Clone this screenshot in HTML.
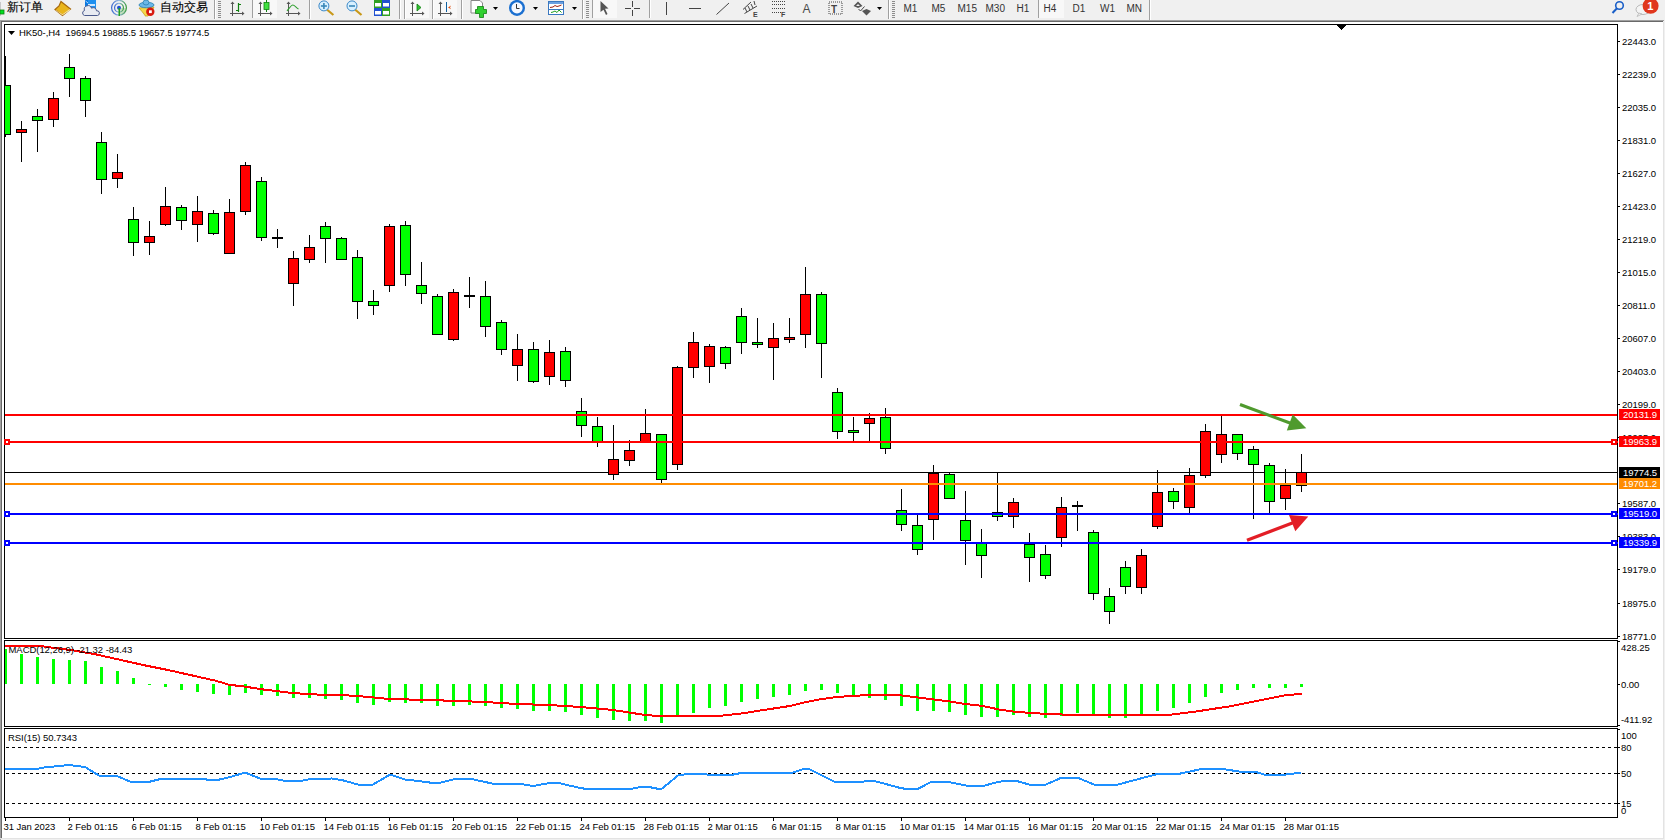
<!DOCTYPE html>
<html><head><meta charset="utf-8"><style>
html,body{margin:0;padding:0;width:1665px;height:840px;overflow:hidden;background:#F0F0F0;font-family:"Liberation Sans",sans-serif;}
svg text{white-space:pre}
</style></head><body>
<svg width="1665" height="840" viewBox="0 0 1665 840" style="position:absolute;left:0;top:0">
<defs>
<clipPath id="cm"><rect x="5" y="25" width="1612" height="613"/></clipPath>
<clipPath id="cmacd"><rect x="5" y="641" width="1612" height="85"/></clipPath>
<clipPath id="crsi"><rect x="5" y="729" width="1612" height="88"/></clipPath>
</defs>
<g shape-rendering="crispEdges">
<!-- frame -->
<rect x="0" y="20" width="1664" height="1" fill="#A0A0A0"/><rect x="0" y="21" width="1663" height="1" fill="#696969"/>
<rect x="0" y="20" width="1" height="820" fill="#A0A0A0"/><rect x="1" y="21" width="1" height="817" fill="#696969"/>
<rect x="2" y="22" width="1661" height="816" fill="#FFFFFF"/>
<rect x="1663" y="22" width="1" height="817" fill="#E3E3E3"/><rect x="0" y="838" width="1664" height="1" fill="#E3E3E3"/>
<!-- main chart border -->
<rect x="4" y="24" width="1614" height="1" fill="#000"/><rect x="4" y="24" width="1" height="615" fill="#000"/><rect x="1617" y="24" width="1" height="615" fill="#000"/><rect x="4" y="638" width="1614" height="1" fill="#000"/>
<rect x="5" y="472" width="1612" height="1" fill="#000000"/><g clip-path="url(#cm)"><rect x="5" y="56" width="1" height="81" fill="#000"/><rect x="0" y="85" width="11" height="50" fill="#000"/><rect x="1" y="86" width="9" height="48" fill="#00FF00"/><rect x="21" y="121" width="1" height="41" fill="#000"/><rect x="16" y="129" width="11" height="4" fill="#000"/><rect x="17" y="130" width="9" height="2" fill="#FF0000"/><rect x="37" y="109" width="1" height="43" fill="#000"/><rect x="32" y="116" width="11" height="5" fill="#000"/><rect x="33" y="117" width="9" height="3" fill="#00FF00"/><rect x="53" y="92" width="1" height="35" fill="#000"/><rect x="48" y="98" width="11" height="22" fill="#000"/><rect x="49" y="99" width="9" height="20" fill="#FF0000"/><rect x="69" y="54" width="1" height="43" fill="#000"/><rect x="64" y="67" width="11" height="12" fill="#000"/><rect x="65" y="68" width="9" height="10" fill="#00FF00"/><rect x="85" y="76" width="1" height="41" fill="#000"/><rect x="80" y="78" width="11" height="23" fill="#000"/><rect x="81" y="79" width="9" height="21" fill="#00FF00"/><rect x="101" y="132" width="1" height="62" fill="#000"/><rect x="96" y="142" width="11" height="38" fill="#000"/><rect x="97" y="143" width="9" height="36" fill="#00FF00"/><rect x="117" y="154" width="1" height="34" fill="#000"/><rect x="112" y="172" width="11" height="7" fill="#000"/><rect x="113" y="173" width="9" height="5" fill="#FF0000"/><rect x="133" y="207" width="1" height="49" fill="#000"/><rect x="128" y="219" width="11" height="24" fill="#000"/><rect x="129" y="220" width="9" height="22" fill="#00FF00"/><rect x="149" y="221" width="1" height="34" fill="#000"/><rect x="144" y="236" width="11" height="7" fill="#000"/><rect x="145" y="237" width="9" height="5" fill="#FF0000"/><rect x="165" y="187" width="1" height="39" fill="#000"/><rect x="160" y="206" width="11" height="19" fill="#000"/><rect x="161" y="207" width="9" height="17" fill="#FF0000"/><rect x="181" y="205" width="1" height="25" fill="#000"/><rect x="176" y="207" width="11" height="14" fill="#000"/><rect x="177" y="208" width="9" height="12" fill="#00FF00"/><rect x="197" y="196" width="1" height="46" fill="#000"/><rect x="192" y="211" width="11" height="14" fill="#000"/><rect x="193" y="212" width="9" height="12" fill="#FF0000"/><rect x="213" y="210" width="1" height="25" fill="#000"/><rect x="208" y="213" width="11" height="21" fill="#000"/><rect x="209" y="214" width="9" height="19" fill="#00FF00"/><rect x="229" y="199" width="1" height="55" fill="#000"/><rect x="224" y="212" width="11" height="42" fill="#000"/><rect x="225" y="213" width="9" height="40" fill="#FF0000"/><rect x="245" y="162" width="1" height="53" fill="#000"/><rect x="240" y="165" width="11" height="47" fill="#000"/><rect x="241" y="166" width="9" height="45" fill="#FF0000"/><rect x="261" y="177" width="1" height="64" fill="#000"/><rect x="256" y="181" width="11" height="57" fill="#000"/><rect x="257" y="182" width="9" height="55" fill="#00FF00"/><rect x="277" y="229" width="1" height="19" fill="#000"/><rect x="272" y="237" width="11" height="2" fill="#000"/><rect x="293" y="251" width="1" height="55" fill="#000"/><rect x="288" y="258" width="11" height="26" fill="#000"/><rect x="289" y="259" width="9" height="24" fill="#FF0000"/><rect x="309" y="235" width="1" height="28" fill="#000"/><rect x="304" y="247" width="11" height="13" fill="#000"/><rect x="305" y="248" width="9" height="11" fill="#FF0000"/><rect x="325" y="222" width="1" height="41" fill="#000"/><rect x="320" y="226" width="11" height="13" fill="#000"/><rect x="321" y="227" width="9" height="11" fill="#00FF00"/><rect x="341" y="237" width="1" height="23" fill="#000"/><rect x="336" y="238" width="11" height="22" fill="#000"/><rect x="337" y="239" width="9" height="20" fill="#00FF00"/><rect x="357" y="250" width="1" height="69" fill="#000"/><rect x="352" y="257" width="11" height="45" fill="#000"/><rect x="353" y="258" width="9" height="43" fill="#00FF00"/><rect x="373" y="290" width="1" height="25" fill="#000"/><rect x="368" y="301" width="11" height="5" fill="#000"/><rect x="369" y="302" width="9" height="3" fill="#00FF00"/><rect x="389" y="224" width="1" height="68" fill="#000"/><rect x="384" y="226" width="11" height="60" fill="#000"/><rect x="385" y="227" width="9" height="58" fill="#FF0000"/><rect x="405" y="221" width="1" height="65" fill="#000"/><rect x="400" y="225" width="11" height="50" fill="#000"/><rect x="401" y="226" width="9" height="48" fill="#00FF00"/><rect x="421" y="262" width="1" height="42" fill="#000"/><rect x="416" y="285" width="11" height="9" fill="#000"/><rect x="417" y="286" width="9" height="7" fill="#00FF00"/><rect x="437" y="294" width="1" height="41" fill="#000"/><rect x="432" y="296" width="11" height="39" fill="#000"/><rect x="433" y="297" width="9" height="37" fill="#00FF00"/><rect x="453" y="289" width="1" height="52" fill="#000"/><rect x="448" y="292" width="11" height="48" fill="#000"/><rect x="449" y="293" width="9" height="46" fill="#FF0000"/><rect x="469" y="277" width="1" height="31" fill="#000"/><rect x="464" y="295" width="11" height="2" fill="#000"/><rect x="485" y="281" width="1" height="56" fill="#000"/><rect x="480" y="296" width="11" height="31" fill="#000"/><rect x="481" y="297" width="9" height="29" fill="#00FF00"/><rect x="501" y="320" width="1" height="35" fill="#000"/><rect x="496" y="322" width="11" height="28" fill="#000"/><rect x="497" y="323" width="9" height="26" fill="#00FF00"/><rect x="517" y="334" width="1" height="47" fill="#000"/><rect x="512" y="349" width="11" height="17" fill="#000"/><rect x="513" y="350" width="9" height="15" fill="#FF0000"/><rect x="533" y="342" width="1" height="41" fill="#000"/><rect x="528" y="349" width="11" height="33" fill="#000"/><rect x="529" y="350" width="9" height="31" fill="#00FF00"/><rect x="549" y="340" width="1" height="45" fill="#000"/><rect x="544" y="352" width="11" height="25" fill="#000"/><rect x="545" y="353" width="9" height="23" fill="#FF0000"/><rect x="565" y="347" width="1" height="40" fill="#000"/><rect x="560" y="351" width="11" height="30" fill="#000"/><rect x="561" y="352" width="9" height="28" fill="#00FF00"/><rect x="581" y="398" width="1" height="39" fill="#000"/><rect x="576" y="411" width="11" height="15" fill="#000"/><rect x="577" y="412" width="9" height="13" fill="#00FF00"/><rect x="597" y="417" width="1" height="30" fill="#000"/><rect x="592" y="426" width="11" height="16" fill="#000"/><rect x="593" y="427" width="9" height="14" fill="#00FF00"/><rect x="613" y="425" width="1" height="55" fill="#000"/><rect x="608" y="459" width="11" height="16" fill="#000"/><rect x="609" y="460" width="9" height="14" fill="#FF0000"/><rect x="629" y="440" width="1" height="26" fill="#000"/><rect x="624" y="450" width="11" height="11" fill="#000"/><rect x="625" y="451" width="9" height="9" fill="#FF0000"/><rect x="645" y="409" width="1" height="33" fill="#000"/><rect x="640" y="433" width="11" height="9" fill="#000"/><rect x="641" y="434" width="9" height="7" fill="#FF0000"/><rect x="661" y="434" width="1" height="49" fill="#000"/><rect x="656" y="434" width="11" height="46" fill="#000"/><rect x="657" y="435" width="9" height="44" fill="#00FF00"/><rect x="677" y="366" width="1" height="104" fill="#000"/><rect x="672" y="367" width="11" height="98" fill="#000"/><rect x="673" y="368" width="9" height="96" fill="#FF0000"/><rect x="693" y="332" width="1" height="46" fill="#000"/><rect x="688" y="342" width="11" height="26" fill="#000"/><rect x="689" y="343" width="9" height="24" fill="#FF0000"/><rect x="709" y="344" width="1" height="39" fill="#000"/><rect x="704" y="346" width="11" height="21" fill="#000"/><rect x="705" y="347" width="9" height="19" fill="#FF0000"/><rect x="725" y="346" width="1" height="23" fill="#000"/><rect x="720" y="347" width="11" height="17" fill="#000"/><rect x="721" y="348" width="9" height="15" fill="#00FF00"/><rect x="741" y="308" width="1" height="46" fill="#000"/><rect x="736" y="316" width="11" height="27" fill="#000"/><rect x="737" y="317" width="9" height="25" fill="#00FF00"/><rect x="757" y="318" width="1" height="30" fill="#000"/><rect x="752" y="342" width="11" height="3" fill="#000"/><rect x="753" y="343" width="9" height="1" fill="#00FF00"/><rect x="773" y="323" width="1" height="57" fill="#000"/><rect x="768" y="338" width="11" height="10" fill="#000"/><rect x="769" y="339" width="9" height="8" fill="#FF0000"/><rect x="789" y="318" width="1" height="25" fill="#000"/><rect x="784" y="337" width="11" height="3" fill="#000"/><rect x="785" y="338" width="9" height="1" fill="#FF0000"/><rect x="805" y="267" width="1" height="81" fill="#000"/><rect x="800" y="294" width="11" height="41" fill="#000"/><rect x="801" y="295" width="9" height="39" fill="#FF0000"/><rect x="821" y="292" width="1" height="86" fill="#000"/><rect x="816" y="294" width="11" height="50" fill="#000"/><rect x="817" y="295" width="9" height="48" fill="#00FF00"/><rect x="837" y="388" width="1" height="51" fill="#000"/><rect x="832" y="392" width="11" height="40" fill="#000"/><rect x="833" y="393" width="9" height="38" fill="#00FF00"/><rect x="853" y="417" width="1" height="24" fill="#000"/><rect x="848" y="430" width="11" height="3" fill="#000"/><rect x="849" y="431" width="9" height="1" fill="#00FF00"/><rect x="869" y="413" width="1" height="28" fill="#000"/><rect x="864" y="418" width="11" height="6" fill="#000"/><rect x="865" y="419" width="9" height="4" fill="#FF0000"/><rect x="885" y="408" width="1" height="46" fill="#000"/><rect x="880" y="417" width="11" height="32" fill="#000"/><rect x="881" y="418" width="9" height="30" fill="#00FF00"/><rect x="901" y="489" width="1" height="42" fill="#000"/><rect x="896" y="510" width="11" height="15" fill="#000"/><rect x="897" y="511" width="9" height="13" fill="#00FF00"/><rect x="917" y="515" width="1" height="40" fill="#000"/><rect x="912" y="525" width="11" height="25" fill="#000"/><rect x="913" y="526" width="9" height="23" fill="#00FF00"/><rect x="933" y="465" width="1" height="75" fill="#000"/><rect x="928" y="473" width="11" height="47" fill="#000"/><rect x="929" y="474" width="9" height="45" fill="#FF0000"/><rect x="949" y="473" width="1" height="26" fill="#000"/><rect x="944" y="474" width="11" height="25" fill="#000"/><rect x="945" y="475" width="9" height="23" fill="#00FF00"/><rect x="965" y="491" width="1" height="74" fill="#000"/><rect x="960" y="520" width="11" height="21" fill="#000"/><rect x="961" y="521" width="9" height="19" fill="#00FF00"/><rect x="981" y="529" width="1" height="49" fill="#000"/><rect x="976" y="543" width="11" height="13" fill="#000"/><rect x="977" y="544" width="9" height="11" fill="#00FF00"/><rect x="997" y="472" width="1" height="49" fill="#000"/><rect x="992" y="512" width="11" height="5" fill="#000"/><rect x="993" y="513" width="9" height="3" fill="#00FF00"/><rect x="1013" y="498" width="1" height="30" fill="#000"/><rect x="1008" y="502" width="11" height="15" fill="#000"/><rect x="1009" y="503" width="9" height="13" fill="#FF0000"/><rect x="1029" y="533" width="1" height="49" fill="#000"/><rect x="1024" y="544" width="11" height="14" fill="#000"/><rect x="1025" y="545" width="9" height="12" fill="#00FF00"/><rect x="1045" y="545" width="1" height="34" fill="#000"/><rect x="1040" y="554" width="11" height="22" fill="#000"/><rect x="1041" y="555" width="9" height="20" fill="#00FF00"/><rect x="1061" y="497" width="1" height="50" fill="#000"/><rect x="1056" y="507" width="11" height="31" fill="#000"/><rect x="1057" y="508" width="9" height="29" fill="#FF0000"/><rect x="1077" y="501" width="1" height="30" fill="#000"/><rect x="1072" y="505" width="11" height="2" fill="#000"/><rect x="1093" y="530" width="1" height="70" fill="#000"/><rect x="1088" y="532" width="11" height="62" fill="#000"/><rect x="1089" y="533" width="9" height="60" fill="#00FF00"/><rect x="1109" y="588" width="1" height="36" fill="#000"/><rect x="1104" y="596" width="11" height="16" fill="#000"/><rect x="1105" y="597" width="9" height="14" fill="#00FF00"/><rect x="1125" y="561" width="1" height="33" fill="#000"/><rect x="1120" y="567" width="11" height="20" fill="#000"/><rect x="1121" y="568" width="9" height="18" fill="#00FF00"/><rect x="1141" y="549" width="1" height="45" fill="#000"/><rect x="1136" y="555" width="11" height="33" fill="#000"/><rect x="1137" y="556" width="9" height="31" fill="#FF0000"/><rect x="1157" y="470" width="1" height="59" fill="#000"/><rect x="1152" y="492" width="11" height="35" fill="#000"/><rect x="1153" y="493" width="9" height="33" fill="#FF0000"/><rect x="1173" y="488" width="1" height="21" fill="#000"/><rect x="1168" y="491" width="11" height="11" fill="#000"/><rect x="1169" y="492" width="9" height="9" fill="#00FF00"/><rect x="1189" y="468" width="1" height="45" fill="#000"/><rect x="1184" y="475" width="11" height="33" fill="#000"/><rect x="1185" y="476" width="9" height="31" fill="#FF0000"/><rect x="1205" y="424" width="1" height="54" fill="#000"/><rect x="1200" y="431" width="11" height="45" fill="#000"/><rect x="1201" y="432" width="9" height="43" fill="#FF0000"/><rect x="1221" y="416" width="1" height="47" fill="#000"/><rect x="1216" y="434" width="11" height="21" fill="#000"/><rect x="1217" y="435" width="9" height="19" fill="#FF0000"/><rect x="1237" y="434" width="1" height="26" fill="#000"/><rect x="1232" y="434" width="11" height="20" fill="#000"/><rect x="1233" y="435" width="9" height="18" fill="#00FF00"/><rect x="1253" y="446" width="1" height="73" fill="#000"/><rect x="1248" y="449" width="11" height="16" fill="#000"/><rect x="1249" y="450" width="9" height="14" fill="#00FF00"/><rect x="1269" y="463" width="1" height="50" fill="#000"/><rect x="1264" y="465" width="11" height="37" fill="#000"/><rect x="1265" y="466" width="9" height="35" fill="#00FF00"/><rect x="1285" y="469" width="1" height="41" fill="#000"/><rect x="1280" y="485" width="11" height="14" fill="#000"/><rect x="1281" y="486" width="9" height="12" fill="#FF0000"/><rect x="1301" y="454" width="1" height="38" fill="#000"/><rect x="1296" y="472" width="11" height="14" fill="#000"/><rect x="1297" y="473" width="9" height="12" fill="#FF0000"/></g>
<rect x="5" y="414" width="1612" height="2" fill="#FF0000"/><rect x="5" y="441" width="1613" height="2" fill="#FF0000"/><rect x="5" y="483" width="1612" height="2" fill="#FF8C00"/><rect x="5" y="513" width="1613" height="2" fill="#0000FF"/><rect x="5" y="542" width="1613" height="2" fill="#0000FF"/><rect x="4" y="439" width="6" height="6" fill="#FF0000"/><rect x="6" y="441" width="2" height="2" fill="#FFFFFF"/><rect x="1611" y="439" width="6" height="6" fill="#FF0000"/><rect x="1613" y="441" width="2" height="2" fill="#FFFFFF"/><rect x="4" y="511" width="6" height="6" fill="#0000FF"/><rect x="6" y="513" width="2" height="2" fill="#FFFFFF"/><rect x="1611" y="511" width="6" height="6" fill="#0000FF"/><rect x="1613" y="513" width="2" height="2" fill="#FFFFFF"/><rect x="4" y="540" width="6" height="6" fill="#0000FF"/><rect x="6" y="542" width="2" height="2" fill="#FFFFFF"/><rect x="1611" y="540" width="6" height="6" fill="#0000FF"/><rect x="1613" y="542" width="2" height="2" fill="#FFFFFF"/>
<polygon points="1337,25 1346,25 1341.5,30" fill="#000"/>
<!-- macd -->
<rect x="4" y="640" width="1614" height="1" fill="#000"/><rect x="4" y="640" width="1" height="87" fill="#000"/><rect x="1617" y="640" width="1" height="87" fill="#000"/><rect x="4" y="726" width="1614" height="1" fill="#000"/>
<g clip-path="url(#cmacd)"><rect x="4" y="649" width="3" height="35" fill="#00FF00"/><rect x="20" y="654" width="3" height="30" fill="#00FF00"/><rect x="36" y="657" width="3" height="27" fill="#00FF00"/><rect x="52" y="659" width="3" height="25" fill="#00FF00"/><rect x="68" y="660" width="3" height="24" fill="#00FF00"/><rect x="84" y="661" width="3" height="23" fill="#00FF00"/><rect x="100" y="667" width="3" height="17" fill="#00FF00"/><rect x="116" y="671" width="3" height="13" fill="#00FF00"/><rect x="132" y="678" width="3" height="6" fill="#00FF00"/><rect x="148" y="684" width="3" height="1" fill="#00FF00"/><rect x="164" y="684" width="3" height="3" fill="#00FF00"/><rect x="180" y="684" width="3" height="6" fill="#00FF00"/><rect x="196" y="684" width="3" height="8" fill="#00FF00"/><rect x="212" y="684" width="3" height="10" fill="#00FF00"/><rect x="228" y="684" width="3" height="11" fill="#00FF00"/><rect x="244" y="684" width="3" height="9" fill="#00FF00"/><rect x="260" y="684" width="3" height="11" fill="#00FF00"/><rect x="276" y="684" width="3" height="12" fill="#00FF00"/><rect x="292" y="684" width="3" height="14" fill="#00FF00"/><rect x="308" y="684" width="3" height="14" fill="#00FF00"/><rect x="324" y="684" width="3" height="15" fill="#00FF00"/><rect x="340" y="684" width="3" height="16" fill="#00FF00"/><rect x="356" y="684" width="3" height="19" fill="#00FF00"/><rect x="372" y="684" width="3" height="21" fill="#00FF00"/><rect x="388" y="684" width="3" height="18" fill="#00FF00"/><rect x="404" y="684" width="3" height="19" fill="#00FF00"/><rect x="420" y="684" width="3" height="19" fill="#00FF00"/><rect x="436" y="684" width="3" height="22" fill="#00FF00"/><rect x="452" y="684" width="3" height="22" fill="#00FF00"/><rect x="468" y="684" width="3" height="21" fill="#00FF00"/><rect x="484" y="684" width="3" height="22" fill="#00FF00"/><rect x="500" y="684" width="3" height="24" fill="#00FF00"/><rect x="516" y="684" width="3" height="25" fill="#00FF00"/><rect x="532" y="684" width="3" height="27" fill="#00FF00"/><rect x="548" y="684" width="3" height="27" fill="#00FF00"/><rect x="564" y="684" width="3" height="28" fill="#00FF00"/><rect x="580" y="684" width="3" height="31" fill="#00FF00"/><rect x="596" y="684" width="3" height="34" fill="#00FF00"/><rect x="612" y="684" width="3" height="36" fill="#00FF00"/><rect x="628" y="684" width="3" height="37" fill="#00FF00"/><rect x="644" y="684" width="3" height="37" fill="#00FF00"/><rect x="660" y="684" width="3" height="39" fill="#00FF00"/><rect x="676" y="684" width="3" height="32" fill="#00FF00"/><rect x="692" y="684" width="3" height="29" fill="#00FF00"/><rect x="708" y="684" width="3" height="24" fill="#00FF00"/><rect x="724" y="684" width="3" height="22" fill="#00FF00"/><rect x="740" y="684" width="3" height="18" fill="#00FF00"/><rect x="756" y="684" width="3" height="15" fill="#00FF00"/><rect x="772" y="684" width="3" height="13" fill="#00FF00"/><rect x="788" y="684" width="3" height="11" fill="#00FF00"/><rect x="804" y="684" width="3" height="7" fill="#00FF00"/><rect x="820" y="684" width="3" height="6" fill="#00FF00"/><rect x="836" y="684" width="3" height="9" fill="#00FF00"/><rect x="852" y="684" width="3" height="12" fill="#00FF00"/><rect x="868" y="684" width="3" height="14" fill="#00FF00"/><rect x="884" y="684" width="3" height="16" fill="#00FF00"/><rect x="900" y="684" width="3" height="22" fill="#00FF00"/><rect x="916" y="684" width="3" height="27" fill="#00FF00"/><rect x="932" y="684" width="3" height="27" fill="#00FF00"/><rect x="948" y="684" width="3" height="28" fill="#00FF00"/><rect x="964" y="684" width="3" height="31" fill="#00FF00"/><rect x="980" y="684" width="3" height="33" fill="#00FF00"/><rect x="996" y="684" width="3" height="33" fill="#00FF00"/><rect x="1012" y="684" width="3" height="31" fill="#00FF00"/><rect x="1028" y="684" width="3" height="33" fill="#00FF00"/><rect x="1044" y="684" width="3" height="34" fill="#00FF00"/><rect x="1060" y="684" width="3" height="32" fill="#00FF00"/><rect x="1076" y="684" width="3" height="29" fill="#00FF00"/><rect x="1092" y="684" width="3" height="30" fill="#00FF00"/><rect x="1108" y="684" width="3" height="34" fill="#00FF00"/><rect x="1124" y="684" width="3" height="34" fill="#00FF00"/><rect x="1140" y="684" width="3" height="30" fill="#00FF00"/><rect x="1156" y="684" width="3" height="27" fill="#00FF00"/><rect x="1172" y="684" width="3" height="24" fill="#00FF00"/><rect x="1188" y="684" width="3" height="19" fill="#00FF00"/><rect x="1204" y="684" width="3" height="13" fill="#00FF00"/><rect x="1220" y="684" width="3" height="9" fill="#00FF00"/><rect x="1236" y="684" width="3" height="6" fill="#00FF00"/><rect x="1252" y="684" width="3" height="4" fill="#00FF00"/><rect x="1268" y="684" width="3" height="4" fill="#00FF00"/><rect x="1284" y="684" width="3" height="4" fill="#00FF00"/><rect x="1300" y="684" width="3" height="3" fill="#00FF00"/></g>
</g>
<g clip-path="url(#cmacd)"><polyline points="5,645.5 37,645.5 53,647.8 72,650.2 96,654.4 120,659.8 144,665.2 168,670 192,675.4 216,680.8 229,684.7 246,686.8 261,689.2 293,693.1 325,695 341,695 357,696 373,697.4 389,699 421,699.8 453,700.8 485,702 517,704 549,705 581,707 613,710 645,715 662,716.3 719,716 743,713.3 759,710.7 775,708.3 791,705.8 806,702 822,699 838,696.9 870,694.9 902,695.5 917,697.4 933,699.4 949,701.4 965,704 982,705.8 999,709.5 1014,711.7 1038,713.4 1062,714.5 1172,714.5 1198,711.2 1230,706.3 1263,699.8 1284,695.5 1302,693.7" fill="none" stroke="#FF0000" stroke-width="2" shape-rendering="crispEdges"/></g>
<g shape-rendering="crispEdges">
<!-- rsi -->
<rect x="4" y="728" width="1614" height="1" fill="#000"/><rect x="4" y="728" width="1" height="90" fill="#000"/><rect x="1617" y="728" width="1" height="90" fill="#000"/><rect x="4" y="817" width="1614" height="1" fill="#000"/>
<line x1="6" y1="747.5" x2="1617" y2="747.5" stroke="#000" stroke-dasharray="3,3"/>
<line x1="6" y1="773.5" x2="1617" y2="773.5" stroke="#000" stroke-dasharray="3,3"/>
<line x1="6" y1="803.5" x2="1617" y2="803.5" stroke="#000" stroke-dasharray="3,3"/>
</g>
<g clip-path="url(#crsi)"><polyline points="5,769 37,769 45,767.2 53,766.6 69,765 85,767 99,775.5 117,776 131,781.9 149,781.9 161,778.9 204,778.9 208,779.9 218,779.9 230,777 245,772.6 260,778.5 275,778.9 285,780.9 301,780.9 311,778.9 332,778.5 342,780.1 358,784.5 373,784.5 390,774.6 405,779.5 419,781.1 437,783.5 457,778.5 469,778.5 492,783.5 518,783.5 530,785.5 536,785.5 550,782.9 558,782.9 582,788.4 597,789.4 629,789.4 641,786.8 648,786.8 661,789.4 678,775.5 690,773.6 709,774.6 733,774.6 743,772.6 793,772.6 805,768.6 808,768.6 835,781.9 860,781.9 870,780.9 874,780.9 902,788.4 917,789.4 931,781.9 948,781.9 966,785.5 985,785.5 999,781.6 1016,780.8 1029,784.5 1046,784.5 1062,777.5 1077,777.5 1094,784.5 1118,784.5 1159,773.6 1180,773.6 1202,768.9 1222,768.9 1239,771.5 1254,771.5 1265,774.7 1284,774.7 1301,772.6" fill="none" stroke="#1E90FF" stroke-width="2" shape-rendering="crispEdges"/></g>
<g shape-rendering="crispEdges">
<rect x="1618" y="41" width="2" height="1" fill="#000"/><text x="1622" y="45" font-family="Liberation Sans, sans-serif" font-size="9.5" letter-spacing="-0.05" fill="#000">22443.0</text><rect x="1618" y="74" width="2" height="1" fill="#000"/><text x="1622" y="78" font-family="Liberation Sans, sans-serif" font-size="9.5" letter-spacing="-0.05" fill="#000">22239.0</text><rect x="1618" y="107" width="2" height="1" fill="#000"/><text x="1622" y="111" font-family="Liberation Sans, sans-serif" font-size="9.5" letter-spacing="-0.05" fill="#000">22035.0</text><rect x="1618" y="140" width="2" height="1" fill="#000"/><text x="1622" y="144" font-family="Liberation Sans, sans-serif" font-size="9.5" letter-spacing="-0.05" fill="#000">21831.0</text><rect x="1618" y="173" width="2" height="1" fill="#000"/><text x="1622" y="177" font-family="Liberation Sans, sans-serif" font-size="9.5" letter-spacing="-0.05" fill="#000">21627.0</text><rect x="1618" y="206" width="2" height="1" fill="#000"/><text x="1622" y="210" font-family="Liberation Sans, sans-serif" font-size="9.5" letter-spacing="-0.05" fill="#000">21423.0</text><rect x="1618" y="239" width="2" height="1" fill="#000"/><text x="1622" y="243" font-family="Liberation Sans, sans-serif" font-size="9.5" letter-spacing="-0.05" fill="#000">21219.0</text><rect x="1618" y="272" width="2" height="1" fill="#000"/><text x="1622" y="276" font-family="Liberation Sans, sans-serif" font-size="9.5" letter-spacing="-0.05" fill="#000">21015.0</text><rect x="1618" y="305" width="2" height="1" fill="#000"/><text x="1622" y="309" font-family="Liberation Sans, sans-serif" font-size="9.5" letter-spacing="-0.05" fill="#000">20811.0</text><rect x="1618" y="338" width="2" height="1" fill="#000"/><text x="1622" y="342" font-family="Liberation Sans, sans-serif" font-size="9.5" letter-spacing="-0.05" fill="#000">20607.0</text><rect x="1618" y="371" width="2" height="1" fill="#000"/><text x="1622" y="375" font-family="Liberation Sans, sans-serif" font-size="9.5" letter-spacing="-0.05" fill="#000">20403.0</text><rect x="1618" y="404" width="2" height="1" fill="#000"/><text x="1622" y="408" font-family="Liberation Sans, sans-serif" font-size="9.5" letter-spacing="-0.05" fill="#000">20199.0</text><rect x="1618" y="437" width="2" height="1" fill="#000"/><text x="1622" y="441" font-family="Liberation Sans, sans-serif" font-size="9.5" letter-spacing="-0.05" fill="#000">19995.0</text><rect x="1618" y="503" width="2" height="1" fill="#000"/><text x="1622" y="507" font-family="Liberation Sans, sans-serif" font-size="9.5" letter-spacing="-0.05" fill="#000">19587.0</text><rect x="1618" y="536" width="2" height="1" fill="#000"/><text x="1622" y="540" font-family="Liberation Sans, sans-serif" font-size="9.5" letter-spacing="-0.05" fill="#000">19383.0</text><rect x="1618" y="569" width="2" height="1" fill="#000"/><text x="1622" y="573" font-family="Liberation Sans, sans-serif" font-size="9.5" letter-spacing="-0.05" fill="#000">19179.0</text><rect x="1618" y="603" width="2" height="1" fill="#000"/><text x="1622" y="607" font-family="Liberation Sans, sans-serif" font-size="9.5" letter-spacing="-0.05" fill="#000">18975.0</text><rect x="1618" y="636" width="2" height="1" fill="#000"/><text x="1622" y="640" font-family="Liberation Sans, sans-serif" font-size="9.5" letter-spacing="-0.05" fill="#000">18771.0</text>
<rect x="1619" y="409" width="41" height="11" fill="#FF0000"/><text x="1623" y="417.5" font-family="Liberation Sans, sans-serif" font-size="9.5" letter-spacing="-0.05" fill="#FFFFFF">20131.9</text><rect x="1619" y="436" width="41" height="11" fill="#FF0000"/><text x="1623" y="444.5" font-family="Liberation Sans, sans-serif" font-size="9.5" letter-spacing="-0.05" fill="#FFFFFF">19963.9</text><rect x="1619" y="467" width="41" height="11" fill="#000000"/><text x="1623" y="475.5" font-family="Liberation Sans, sans-serif" font-size="9.5" letter-spacing="-0.05" fill="#FFFFFF">19774.5</text><rect x="1619" y="478" width="41" height="11" fill="#FF8C00"/><text x="1623" y="486.5" font-family="Liberation Sans, sans-serif" font-size="9.5" letter-spacing="-0.05" fill="#FFFFFF">19701.2</text><rect x="1619" y="508" width="41" height="11" fill="#0000FF"/><text x="1623" y="516.5" font-family="Liberation Sans, sans-serif" font-size="9.5" letter-spacing="-0.05" fill="#FFFFFF">19519.0</text><rect x="1619" y="537" width="41" height="11" fill="#0000FF"/><text x="1623" y="545.5" font-family="Liberation Sans, sans-serif" font-size="9.5" letter-spacing="-0.05" fill="#FFFFFF">19339.9</text>
<rect x="1618" y="641" width="2" height="1" fill="#000"/><text x="1621" y="651" font-family="Liberation Sans, sans-serif" font-size="9.5" letter-spacing="-0.05" fill="#000">428.25</text>
<rect x="1618" y="684" width="2" height="1" fill="#000"/><text x="1621" y="688" font-family="Liberation Sans, sans-serif" font-size="9.5" letter-spacing="-0.05" fill="#000">0.00</text>
<rect x="1618" y="725" width="2" height="1" fill="#000"/><text x="1621" y="723" font-family="Liberation Sans, sans-serif" font-size="9.5" letter-spacing="-0.05" fill="#000">-411.92</text>
<rect x="1618" y="729" width="2" height="1" fill="#000"/><text x="1621" y="739" font-family="Liberation Sans, sans-serif" font-size="9.5" letter-spacing="-0.05" fill="#000">100</text>
<rect x="1618" y="747" width="2" height="1" fill="#000"/><text x="1621" y="751" font-family="Liberation Sans, sans-serif" font-size="9.5" letter-spacing="-0.05" fill="#000">80</text>
<rect x="1618" y="773" width="2" height="1" fill="#000"/><text x="1621" y="777" font-family="Liberation Sans, sans-serif" font-size="9.5" letter-spacing="-0.05" fill="#000">50</text>
<rect x="1618" y="803" width="2" height="1" fill="#000"/><text x="1621" y="807" font-family="Liberation Sans, sans-serif" font-size="9.5" letter-spacing="-0.05" fill="#000">15</text>
<text x="1621" y="814" font-family="Liberation Sans, sans-serif" font-size="9.5" letter-spacing="-0.05" fill="#000">0</text>
<rect x="5" y="818" width="1" height="3" fill="#000"/><text x="3.5" y="830" font-family="Liberation Sans, sans-serif" font-size="9.5" letter-spacing="-0.05" fill="#000">31 Jan 2023</text><rect x="69" y="818" width="1" height="3" fill="#000"/><text x="67.5" y="830" font-family="Liberation Sans, sans-serif" font-size="9.5" letter-spacing="-0.05" fill="#000">2 Feb 01:15</text><rect x="133" y="818" width="1" height="3" fill="#000"/><text x="131.5" y="830" font-family="Liberation Sans, sans-serif" font-size="9.5" letter-spacing="-0.05" fill="#000">6 Feb 01:15</text><rect x="197" y="818" width="1" height="3" fill="#000"/><text x="195.5" y="830" font-family="Liberation Sans, sans-serif" font-size="9.5" letter-spacing="-0.05" fill="#000">8 Feb 01:15</text><rect x="261" y="818" width="1" height="3" fill="#000"/><text x="259.5" y="830" font-family="Liberation Sans, sans-serif" font-size="9.5" letter-spacing="-0.05" fill="#000">10 Feb 01:15</text><rect x="325" y="818" width="1" height="3" fill="#000"/><text x="323.5" y="830" font-family="Liberation Sans, sans-serif" font-size="9.5" letter-spacing="-0.05" fill="#000">14 Feb 01:15</text><rect x="389" y="818" width="1" height="3" fill="#000"/><text x="387.5" y="830" font-family="Liberation Sans, sans-serif" font-size="9.5" letter-spacing="-0.05" fill="#000">16 Feb 01:15</text><rect x="453" y="818" width="1" height="3" fill="#000"/><text x="451.5" y="830" font-family="Liberation Sans, sans-serif" font-size="9.5" letter-spacing="-0.05" fill="#000">20 Feb 01:15</text><rect x="517" y="818" width="1" height="3" fill="#000"/><text x="515.5" y="830" font-family="Liberation Sans, sans-serif" font-size="9.5" letter-spacing="-0.05" fill="#000">22 Feb 01:15</text><rect x="581" y="818" width="1" height="3" fill="#000"/><text x="579.5" y="830" font-family="Liberation Sans, sans-serif" font-size="9.5" letter-spacing="-0.05" fill="#000">24 Feb 01:15</text><rect x="645" y="818" width="1" height="3" fill="#000"/><text x="643.5" y="830" font-family="Liberation Sans, sans-serif" font-size="9.5" letter-spacing="-0.05" fill="#000">28 Feb 01:15</text><rect x="709" y="818" width="1" height="3" fill="#000"/><text x="707.5" y="830" font-family="Liberation Sans, sans-serif" font-size="9.5" letter-spacing="-0.05" fill="#000">2 Mar 01:15</text><rect x="773" y="818" width="1" height="3" fill="#000"/><text x="771.5" y="830" font-family="Liberation Sans, sans-serif" font-size="9.5" letter-spacing="-0.05" fill="#000">6 Mar 01:15</text><rect x="837" y="818" width="1" height="3" fill="#000"/><text x="835.5" y="830" font-family="Liberation Sans, sans-serif" font-size="9.5" letter-spacing="-0.05" fill="#000">8 Mar 01:15</text><rect x="901" y="818" width="1" height="3" fill="#000"/><text x="899.5" y="830" font-family="Liberation Sans, sans-serif" font-size="9.5" letter-spacing="-0.05" fill="#000">10 Mar 01:15</text><rect x="965" y="818" width="1" height="3" fill="#000"/><text x="963.5" y="830" font-family="Liberation Sans, sans-serif" font-size="9.5" letter-spacing="-0.05" fill="#000">14 Mar 01:15</text><rect x="1029" y="818" width="1" height="3" fill="#000"/><text x="1027.5" y="830" font-family="Liberation Sans, sans-serif" font-size="9.5" letter-spacing="-0.05" fill="#000">16 Mar 01:15</text><rect x="1093" y="818" width="1" height="3" fill="#000"/><text x="1091.5" y="830" font-family="Liberation Sans, sans-serif" font-size="9.5" letter-spacing="-0.05" fill="#000">20 Mar 01:15</text><rect x="1157" y="818" width="1" height="3" fill="#000"/><text x="1155.5" y="830" font-family="Liberation Sans, sans-serif" font-size="9.5" letter-spacing="-0.05" fill="#000">22 Mar 01:15</text><rect x="1221" y="818" width="1" height="3" fill="#000"/><text x="1219.5" y="830" font-family="Liberation Sans, sans-serif" font-size="9.5" letter-spacing="-0.05" fill="#000">24 Mar 01:15</text><rect x="1285" y="818" width="1" height="3" fill="#000"/><text x="1283.5" y="830" font-family="Liberation Sans, sans-serif" font-size="9.5" letter-spacing="-0.05" fill="#000">28 Mar 01:15</text>
</g>
<polygon points="8,31 15,31 11.5,35" fill="#000"/>
<text x="19" y="36" font-family="Liberation Sans, sans-serif" font-size="9.5" letter-spacing="-0.05" fill="#000">HK50-,H4  19694.5 19885.5 19657.5 19774.5</text>
<text x="8.5" y="653" font-family="Liberation Sans, sans-serif" font-size="9.5" letter-spacing="-0.05" fill="#000">MACD(12,26,9) -21.32 -84.43</text>
<text x="8" y="741" font-family="Liberation Sans, sans-serif" font-size="9.5" letter-spacing="-0.05" fill="#000">RSI(15) 50.7343</text>
<!-- arrows -->
<g>
<line x1="1240" y1="404.5" x2="1292" y2="423.8" stroke="#4F9A2E" stroke-width="3.2"/>
<polygon points="1306.3,428.3 1286.8,430.6 1292.7,414.6" fill="#4F9A2E"/>
<line x1="1247" y1="540.2" x2="1293" y2="522.8" stroke="#E31E26" stroke-width="3.2"/>
<polygon points="1308.3,516.5 1295.3,531.2 1289,515" fill="#E31E26"/>
</g>
</svg>
<svg width="1665" height="20" style="position:absolute;left:0;top:0"><rect x="0" y="2" width="1" height="14" fill="#C8C8C8"/><rect x="0" y="10" width="4" height="4" fill="#00E020" stroke="#108010" stroke-width="0.8"/><text x="7" y="11" font-family="Liberation Sans, sans-serif" font-size="12" fill="#000" stroke="#000" stroke-width="0.12">新订单</text><polygon points="61,1.5 70.5,9 62.5,15.5 55,9.5 59,6" fill="#E9B51C" stroke="#A8680C" stroke-width="1.2"/><polygon points="56,10 62.5,14.2 69.5,9 70.3,10 62.5,15.2 55.3,10" fill="#F8E6A0"/><rect x="85" y="0" width="11" height="10" fill="#1E90F0"/><rect x="88" y="4" width="7" height="2" fill="#CFE8FF"/><rect x="85" y="0" width="3" height="10" fill="#0A78E0"/><line x1="85.5" y1="1" x2="88" y2="3" stroke="#E0F0FF" stroke-width="0.8"/><path d="M84.5,15.5 A2.6,2.6 0 0 1 84.5,10.5 A3.6,3.6 0 0 1 91.5,8.2 A3.2,3.2 0 0 1 96.5,10.8 A2.4,2.4 0 0 1 97.5,15.5 Z" fill="#E8EBF2" stroke="#4A5A8C" stroke-width="1"/><defs><linearGradient id="rg" x1="0" y1="0" x2="1" y2="0"><stop offset="0" stop-color="#3A6AD0"/><stop offset="0.5" stop-color="#9ABCE0"/><stop offset="1" stop-color="#3A9A40"/></linearGradient></defs><path d="M119,8 L119,15.5 A7.5,7.5 0 0 0 126.5,8 Z" fill="#B8DDB0" opacity="0.8"/><circle cx="119" cy="7.8" r="7.4" fill="none" stroke="url(#rg)" stroke-width="1.2"/><circle cx="119" cy="7.8" r="4.4" fill="none" stroke="url(#rg)" stroke-width="1.2"/><circle cx="119" cy="7.8" r="2" fill="#2050D0"/><rect x="118.5" y="8" width="1.5" height="8" fill="#20A020"/><path d="M139,8 Q146,16 145,16 L148,16 Q153,10 154,7 Z" fill="#F4D84A" stroke="#C8A020" stroke-width="0.8"/><ellipse cx="146.5" cy="5" rx="7.5" ry="2.8" fill="#6CB8E8" stroke="#2A80B0" stroke-width="0.8"/><ellipse cx="146" cy="2.5" rx="3" ry="2.5" fill="#6CB8E8" stroke="#2A80B0" stroke-width="0.8"/><circle cx="150.3" cy="11.7" r="4.2" fill="#D81A10"/><rect x="149" y="10.3" width="2.8" height="2.8" fill="#FFF"/><text x="159.5" y="11" font-family="Liberation Sans, sans-serif" font-size="12" fill="#000" stroke="#000" stroke-width="0.12">自动交易</text><rect x="214" y="0" width="1" height="19" fill="#A0A0A0"/><rect x="215" y="0" width="1" height="19" fill="#FFFFFF"/><rect x="218" y="1" width="3" height="1" fill="#8C8C8C"/><rect x="218" y="3" width="3" height="1" fill="#8C8C8C"/><rect x="218" y="5" width="3" height="1" fill="#8C8C8C"/><rect x="218" y="7" width="3" height="1" fill="#8C8C8C"/><rect x="218" y="9" width="3" height="1" fill="#8C8C8C"/><rect x="218" y="11" width="3" height="1" fill="#8C8C8C"/><rect x="218" y="13" width="3" height="1" fill="#8C8C8C"/><rect x="218" y="15" width="3" height="1" fill="#8C8C8C"/><rect x="218" y="17" width="3" height="1" fill="#8C8C8C"/><rect x="253" y="0" width="24" height="18" fill="#F8F8F8"/><rect x="252" y="0" width="1" height="18" fill="#A0A0A0"/><rect x="232" y="2" width="1" height="14" fill="#555555"/><polygon points="230.5,4 232.5,1.5 234.5,4" fill="#555555"/><rect x="230" y="13" width="14" height="1" fill="#555555"/><polygon points="242,11.5 244.5,13.5 242,15.5" fill="#555555"/><path d="M236,10.5 H238.5 M238.5,12 V3 M238.5,4.5 H241" fill="none" stroke="#108010" stroke-width="1.2"/><rect x="260" y="2" width="1" height="14" fill="#555555"/><polygon points="258.5,4 260.5,1.5 262.5,4" fill="#555555"/><rect x="258" y="13" width="14" height="1" fill="#555555"/><polygon points="270,11.5 272.5,13.5 270,15.5" fill="#555555"/><rect x="266" y="0" width="1" height="12" fill="#108010"/><rect x="264" y="2.5" width="5" height="7" fill="#40E040" stroke="#108010" stroke-width="0.8"/><rect x="288" y="2" width="1" height="14" fill="#555555"/><polygon points="286.5,4 288.5,1.5 290.5,4" fill="#555555"/><rect x="286" y="13" width="14" height="1" fill="#555555"/><polygon points="298,11.5 300.5,13.5 298,15.5" fill="#555555"/><path d="M287,11 C289.5,8 291.5,4.5 293,5 C295,5.5 296.5,8 298.5,9" fill="none" stroke="#30A030" stroke-width="1.1"/><rect x="309" y="0" width="1" height="19" fill="#A0A0A0"/><rect x="310" y="0" width="1" height="19" fill="#FFFFFF"/><line x1="326.9" y1="9.5" x2="333.4" y2="15" stroke="#C89818" stroke-width="2.2"/><circle cx="323.9" cy="5.9" r="5" fill="#D8F0FF" stroke="#3A88C8" stroke-width="1"/><rect x="320.9" y="5.2" width="6" height="1.6" fill="#3A88B8"/><rect x="323.09999999999997" y="3" width="1.6" height="6" fill="#3A88B8"/><line x1="355" y1="9.5" x2="361.5" y2="15" stroke="#C89818" stroke-width="2.2"/><circle cx="352" cy="5.9" r="5" fill="#D8F0FF" stroke="#3A88C8" stroke-width="1"/><rect x="349" y="5.2" width="6" height="1.6" fill="#3A88B8"/><rect x="374" y="0" width="8" height="8" fill="#30A020"/><rect x="382" y="0" width="8" height="8" fill="#2050D0"/><rect x="374" y="8" width="8" height="8" fill="#2050D0"/><rect x="382" y="8" width="8" height="8" fill="#30A020"/><rect x="375" y="3" width="6" height="3.5" fill="#FFF"/><rect x="383" y="3" width="6" height="3.5" fill="#FFF"/><rect x="375" y="11" width="6" height="3.5" fill="#FFF"/><rect x="383" y="11" width="6" height="3.5" fill="#FFF"/><rect x="399" y="0" width="1" height="19" fill="#A0A0A0"/><rect x="400" y="0" width="1" height="19" fill="#FFFFFF"/><rect x="404" y="0" width="1" height="19" fill="#A0A0A0"/><rect x="405" y="0" width="1" height="19" fill="#FFFFFF"/><rect x="406" y="0" width="23" height="18" fill="#F8F8F8"/><rect x="412" y="2" width="1" height="14" fill="#555555"/><polygon points="410.5,4 412.5,1.5 414.5,4" fill="#555555"/><rect x="410" y="13" width="14" height="1" fill="#555555"/><polygon points="422,11.5 424.5,13.5 422,15.5" fill="#555555"/><polygon points="417,4 421,7.5 417,11" fill="#30C030" stroke="#108010" stroke-width="0.8"/><rect x="432" y="0" width="1" height="19" fill="#A0A0A0"/><rect x="433" y="0" width="1" height="19" fill="#FFFFFF"/><rect x="434" y="0" width="23" height="18" fill="#F8F8F8"/><rect x="440" y="2" width="1" height="14" fill="#555555"/><polygon points="438.5,4 440.5,1.5 442.5,4" fill="#555555"/><rect x="438" y="13" width="14" height="1" fill="#555555"/><polygon points="450,11.5 452.5,13.5 450,15.5" fill="#555555"/><rect x="446" y="2" width="1" height="10" fill="#1060A0"/><polygon points="448,7.4 451,5.5 450,7.4 452,7.4 452,7.6 450,7.6 451,9.3" fill="#E05010"/><rect x="461" y="0" width="1" height="19" fill="#A0A0A0"/><rect x="462" y="0" width="1" height="19" fill="#FFFFFF"/><path d="M471,0.5 H480 L482.5,3 V13 H471 Z" fill="#FFFFFF" stroke="#888" stroke-width="1"/><path d="M478,7 H484 V10 H487 V14 H484 V18 H480 V14 H476 V10 H478 Z" fill="#30D030" stroke="#108010" stroke-width="0.8" transform="translate(-0.5,-0.5)"/><polygon points="493,7 498,7 495.5,10" fill="#000"/><circle cx="517" cy="7.9" r="8" fill="#1A6FD0"/><circle cx="517" cy="7.9" r="5.6" fill="#F4F8FF"/><path d="M516.5,4 V8.5 H519.5" fill="none" stroke="#333" stroke-width="1"/><polygon points="533,7 538,7 535.5,10" fill="#000"/><rect x="548.5" y="1.5" width="15" height="13" fill="#FFF" stroke="#3A78C0" stroke-width="1"/><rect x="549" y="2" width="14" height="2" fill="#6AA0E0"/><rect x="549" y="9" width="14" height="1" fill="#3A78C0"/><polyline points="550,7.5 553,7 555,5.5 557,6.5 559,6 561.5,5" fill="none" stroke="#A02010" stroke-width="1"/><polyline points="551,12.5 553,12 555,11 557,12.5 559,10 561.5,12.5" fill="none" stroke="#20A020" stroke-width="1"/><polygon points="572,7 577,7 574.5,10" fill="#000"/><rect x="582" y="0" width="1" height="19" fill="#A0A0A0"/><rect x="583" y="0" width="1" height="19" fill="#FFFFFF"/><rect x="586" y="1" width="3" height="1" fill="#8C8C8C"/><rect x="586" y="3" width="3" height="1" fill="#8C8C8C"/><rect x="586" y="5" width="3" height="1" fill="#8C8C8C"/><rect x="586" y="7" width="3" height="1" fill="#8C8C8C"/><rect x="586" y="9" width="3" height="1" fill="#8C8C8C"/><rect x="586" y="11" width="3" height="1" fill="#8C8C8C"/><rect x="586" y="13" width="3" height="1" fill="#8C8C8C"/><rect x="586" y="15" width="3" height="1" fill="#8C8C8C"/><rect x="586" y="17" width="3" height="1" fill="#8C8C8C"/><rect x="593" y="0" width="24" height="18" fill="#F8F8F8"/><rect x="592" y="0" width="1" height="18" fill="#A0A0A0"/><polygon points="600.5,1 608.5,8.5 605,8.8 607.5,14 606,15 603.5,9.8 600.5,12" fill="#555"/><rect x="632" y="1" width="1" height="6" fill="#444"/><rect x="632" y="10" width="1" height="6" fill="#444"/><rect x="625" y="8" width="6" height="1" fill="#444"/><rect x="634" y="8" width="6" height="1" fill="#444"/><rect x="649" y="0" width="1" height="18" fill="#A0A0A0"/><rect x="650" y="0" width="1" height="18" fill="#FFFFFF"/><rect x="666" y="2" width="1" height="13" fill="#444"/><rect x="689" y="8" width="12" height="1" fill="#444"/><line x1="716.5" y1="14.5" x2="729" y2="3" stroke="#444" stroke-width="1"/><line x1="743" y1="9.5" x2="751" y2="2" stroke="#444" stroke-width="1"/><line x1="744.5" y1="13.5" x2="757" y2="6" stroke="#444" stroke-width="1"/><path d="M745,8 L747,12 M748,6 L750,10 M751,4 L753,8 M754,1 L755,5" stroke="#444" stroke-width="1"/><text x="753" y="17" font-family="Liberation Sans, sans-serif" font-size="7" font-weight="bold" fill="#444">E</text><rect x="772" y="1" width="1" height="1" fill="#444"/><rect x="774" y="1" width="1" height="1" fill="#444"/><rect x="776" y="1" width="1" height="1" fill="#444"/><rect x="778" y="1" width="1" height="1" fill="#444"/><rect x="780" y="1" width="1" height="1" fill="#444"/><rect x="782" y="1" width="1" height="1" fill="#444"/><rect x="784" y="1" width="1" height="1" fill="#444"/><rect x="772" y="4" width="1" height="1" fill="#444"/><rect x="774" y="4" width="1" height="1" fill="#444"/><rect x="776" y="4" width="1" height="1" fill="#444"/><rect x="778" y="4" width="1" height="1" fill="#444"/><rect x="780" y="4" width="1" height="1" fill="#444"/><rect x="782" y="4" width="1" height="1" fill="#444"/><rect x="784" y="4" width="1" height="1" fill="#444"/><rect x="772" y="8" width="1" height="1" fill="#444"/><rect x="774" y="8" width="1" height="1" fill="#444"/><rect x="776" y="8" width="1" height="1" fill="#444"/><rect x="778" y="8" width="1" height="1" fill="#444"/><rect x="780" y="8" width="1" height="1" fill="#444"/><rect x="782" y="8" width="1" height="1" fill="#444"/><rect x="784" y="8" width="1" height="1" fill="#444"/><rect x="772" y="12" width="1" height="1" fill="#444"/><rect x="774" y="12" width="1" height="1" fill="#444"/><rect x="776" y="12" width="1" height="1" fill="#444"/><rect x="778" y="12" width="1" height="1" fill="#444"/><rect x="780" y="12" width="1" height="1" fill="#444"/><text x="781" y="17" font-family="Liberation Sans, sans-serif" font-size="7" font-weight="bold" fill="#444">F</text><text x="802.5" y="13" font-family="Liberation Sans, sans-serif" font-size="12" fill="#4A4A4A">A</text><rect x="829" y="2" width="13" height="12" fill="none" stroke="#444" stroke-width="1" stroke-dasharray="1,1"/><text x="831" y="12.5" font-family="Liberation Sans, sans-serif" font-size="10" font-weight="bold" fill="#444">T</text><polygon points="853.5,6 858,1.5 862.5,6 860,6 858,4 856,6" fill="#555"/><polygon points="853.5,6 862.5,6 858,8" fill="#555"/><polygon points="862,11 866.5,15.5 871,11 866.5,9" fill="#555"/><polyline points="858.5,9 860.5,11 864.5,6.5" fill="none" stroke="#444" stroke-width="1"/><polygon points="877,7 882,7 879.5,10" fill="#000"/><rect x="888" y="0" width="1" height="19" fill="#A0A0A0"/><rect x="889" y="0" width="1" height="19" fill="#FFFFFF"/><rect x="892" y="1" width="3" height="1" fill="#8C8C8C"/><rect x="892" y="3" width="3" height="1" fill="#8C8C8C"/><rect x="892" y="5" width="3" height="1" fill="#8C8C8C"/><rect x="892" y="7" width="3" height="1" fill="#8C8C8C"/><rect x="892" y="9" width="3" height="1" fill="#8C8C8C"/><rect x="892" y="11" width="3" height="1" fill="#8C8C8C"/><rect x="892" y="13" width="3" height="1" fill="#8C8C8C"/><rect x="892" y="15" width="3" height="1" fill="#8C8C8C"/><rect x="892" y="17" width="3" height="1" fill="#8C8C8C"/><rect x="1039" y="0" width="25" height="18" fill="#F8F8F8"/><rect x="1038" y="0" width="1" height="18" fill="#A0A0A0"/><text x="903.5" y="12" font-family="Liberation Sans, sans-serif" font-size="10" fill="#333">M1</text><text x="931.5" y="12" font-family="Liberation Sans, sans-serif" font-size="10" fill="#333">M5</text><text x="957.5" y="12" font-family="Liberation Sans, sans-serif" font-size="10" fill="#333">M15</text><text x="985.5" y="12" font-family="Liberation Sans, sans-serif" font-size="10" fill="#333">M30</text><text x="1016.5" y="12" font-family="Liberation Sans, sans-serif" font-size="10" fill="#333">H1</text><text x="1043.5" y="12" font-family="Liberation Sans, sans-serif" font-size="10" fill="#333">H4</text><text x="1072.5" y="12" font-family="Liberation Sans, sans-serif" font-size="10" fill="#333">D1</text><text x="1100" y="12" font-family="Liberation Sans, sans-serif" font-size="10" fill="#333">W1</text><text x="1126.5" y="12" font-family="Liberation Sans, sans-serif" font-size="10" fill="#333">MN</text><rect x="1149" y="0" width="1" height="20" fill="#A0A0A0"/><rect x="1150" y="0" width="1" height="20" fill="#FFFFFF"/><circle cx="1619.5" cy="5.5" r="3.8" fill="none" stroke="#1A5FC8" stroke-width="1.6"/><line x1="1617" y1="8.2" x2="1612.5" y2="13" stroke="#1A5FC8" stroke-width="2"/><ellipse cx="1643" cy="9.5" rx="7" ry="5" fill="#F4F4F4" stroke="#B8B8B8" stroke-width="1"/><polygon points="1639,13 1637,16.5 1642,14" fill="#F4F4F4" stroke="#B8B8B8" stroke-width="0.8"/><circle cx="1650.6" cy="5.8" r="8" fill="#E0361C"/><text x="1647.3" y="10" font-family="Liberation Sans, sans-serif" font-size="11" font-weight="bold" fill="#FFF">1</text></svg>
</body></html>
